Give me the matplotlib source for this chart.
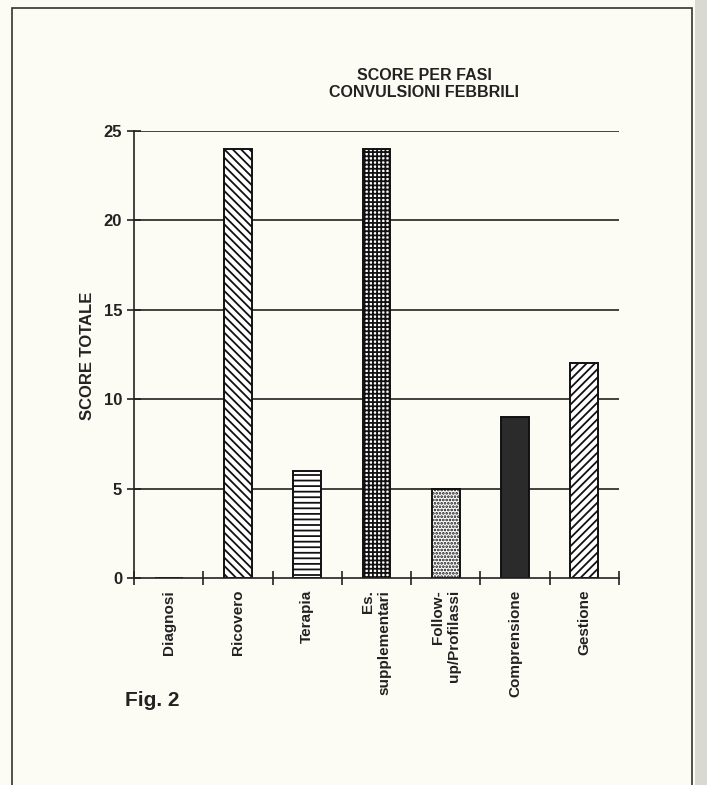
import matplotlib
matplotlib.use('Agg')
import matplotlib.pyplot as plt
from matplotlib.patches import Rectangle

# Phases and total scores
categories = ['Diagnosi', 'Ricovero', 'Terapia', 'Es.\nsupplementari',
              'Follow-\nup/Profilassi', 'Comprensione', 'Gestione']
scores = [0, 24, 6, 24, 5, 9, 12]
hatches = ['', '\\\\\\\\', '---', '++++', '.....', '', '////']
fills = ['white', 'white', 'white', 'white', 'white', '#2b2b2b', 'white']
y_ticks = [0, 5, 10, 15, 20, 25]

plt.rcParams['font.family'] = ['Liberation Sans', 'DejaVu Sans']
plt.rcParams['hatch.linewidth'] = 1.3

ink = '#222222'
paper = '#fcfcf4'
fig = plt.figure(figsize=(7.07, 7.85), dpi=100, facecolor=paper)

# page frame
W, H = 707, 785
fig.patches.append(Rectangle((12 / W, -0.02), (692 - 12) / W, 1.02 - 8 / H,
                             transform=fig.transFigure, fill=False,
                             edgecolor='#333333', linewidth=1.2))
fig.patches.append(Rectangle((695 / W, 0), 12 / W, 1, transform=fig.transFigure,
                             facecolor='#d9d9d2', edgecolor='none'))

ax = fig.add_axes([134 / W, 1 - 578 / H, (619 - 134) / W, (578 - 131) / H])
ax.set_facecolor(paper)

x = list(range(len(categories)))
for yv in y_ticks[1:]:
    ax.axhline(yv, color=ink, linewidth=1.2, zorder=1)

bars = ax.bar(x, scores, width=0.40, color=fills, edgecolor='#111111',
              linewidth=1.4, zorder=2)
for b, h in zip(bars, hatches):
    b.set_hatch(h)

ax.set_xlim(-0.5, len(categories) - 0.5)
ax.set_ylim(0, 25)

ax.spines['top'].set_visible(False)
ax.spines['right'].set_visible(False)
for side in ['left', 'bottom']:
    ax.spines[side].set_color(ink)
    ax.spines[side].set_linewidth(1.2)

ax.set_yticks(y_ticks)
ax.set_yticklabels([str(v) for v in y_ticks], fontsize=12, fontweight='bold',
                   color=ink)
ax.tick_params(axis='y', length=10, direction='inout', width=1.2, color=ink,
               pad=3.5)

ax.set_xticks(x)
ax.set_xticklabels(categories, rotation=90, fontsize=11, fontweight='bold',
                   va='top', ha='center', multialignment='right', color=ink)
ax.tick_params(axis='x', which='major', length=0, pad=8.5)
ax.set_xticks([i - 0.5 for i in range(len(categories) + 1)], minor=True)
ax.tick_params(axis='x', which='minor', length=10, direction='inout',
               width=1.2, color=ink)

fig.text(88 / W, 1 - 356 / H, 'SCORE TOTALE', rotation=90, ha='center',
         va='center', fontsize=12, fontweight='bold', color=ink)
fig.text(424 / W, 1 - 84 / H, 'SCORE PER FASI\nCONVULSIONI FEBBRILI',
         ha='center', va='center', fontsize=11.5, fontweight='bold',
         linespacing=1.15, color=ink)
fig.text(125 / W, 1 - 700 / H, 'Fig. 2', ha='left', va='center', fontsize=15,
         fontweight='bold', color=ink)

fig.savefig('out.png', dpi=100, facecolor=paper)
